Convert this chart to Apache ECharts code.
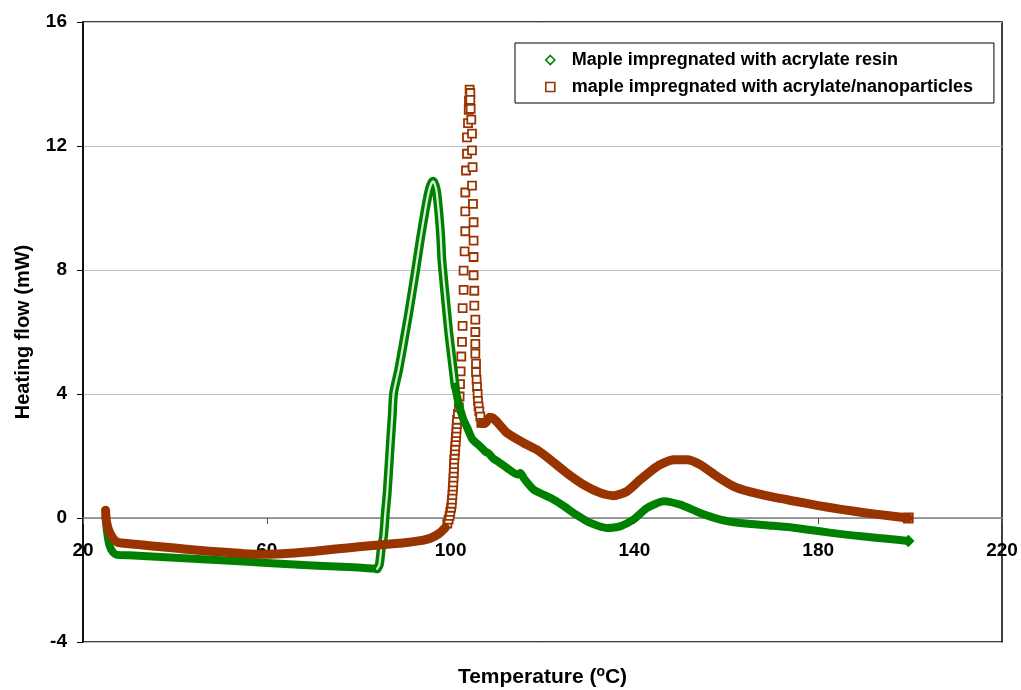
<!DOCTYPE html>
<html>
<head>
<meta charset="utf-8">
<title>Heating flow vs temperature</title>
<script src="https://cdn.jsdelivr.net/npm/echarts@6/dist/echarts.min.js"></script>
<style>
  html, body { margin: 0; padding: 0; background: #fff; }
  #chart { width: 1021px; height: 690px; }
</style>
</head>
<body>
<div id="chart"></div>
<script>
const FONT = '"Liberation Sans", Arial, sans-serif'
const GREEN = '#008000'
const BROWN = '#993300'

const seriesNames = ['Maple impregnated with acrylate resin', 'maple impregnated with acrylate/nanoparticles']
const xTicks = [20, 60, 100, 140, 180, 220]
const yTicks = [-4, 0, 4, 8, 12, 16]

// resin: dense run before the exotherm
const resinStartT = [24.9, 25.2, 25.7, 26.5, 27.5, 30, 40, 50, 60, 70, 80, 84.0]
const resinStartV = [0.05, -0.4, -0.85, -1.1, -1.19, -1.2, -1.28, -1.36, -1.45, -1.53, -1.6, -1.64]
// resin: the peak, where the markers spread apart
const resinPeakT = [84.0, 84.5, 84.9, 85.4, 85.8, 86.2, 86.9, 87.3, 87.6, 88.7, 89.7, 90.9, 92.3, 93.4, 94.5, 95.2, 95.7, 96.2, 96.6, 97.0, 97.8, 98.1, 98.9, 99.6, 100.3, 101.0]
const resinPeakV = [-1.64, -1.5, -1.0, -0.59, 0.16, 0.81, 2.42, 3.3, 4.03, 4.78, 5.6, 6.62, 7.91, 8.98, 9.95, 10.49, 10.75, 10.86, 10.75, 10.49, 9.2, 8.33, 7.04, 5.98, 5.11, 4.24]
// resin: after the peak
const resinEndT = [101.0, 101.7, 102.8, 103.6, 104.7, 106.5, 107.5, 108.3, 109.2, 110.5, 112.3, 114.5, 115.2, 116.0, 118.1, 121.7, 124.5, 126.8, 130.4, 134.0, 136.9, 139.8, 142.7, 146.4, 150.0, 154.3, 158.7, 163.0, 170, 175, 180, 185, 190, 195, 199.6]
const resinEndV = [4.24, 3.72, 3.17, 2.92, 2.55, 2.3, 2.15, 2.08, 1.93, 1.8, 1.61, 1.4, 1.45, 1.27, 0.91, 0.65, 0.4, 0.16, -0.16, -0.32, -0.27, -0.05, 0.32, 0.54, 0.43, 0.16, -0.05, -0.16, -0.25, -0.32, -0.42, -0.52, -0.6, -0.67, -0.74]

// nanoparticles: dense run before the exotherm
const nanoStartT = [24.9, 25.1, 25.6, 26.5, 27.5, 30, 35, 40, 45, 50, 55, 60, 65, 70, 75, 80, 85, 90, 93, 95.6, 97.5, 98.85]
const nanoStartV = [0.25, -0.1, -0.4, -0.65, -0.78, -0.83, -0.9, -0.97, -1.04, -1.1, -1.15, -1.17, -1.14, -1.08, -1.0, -0.93, -0.86, -0.8, -0.74, -0.65, -0.5, -0.31]
// nanoparticles: single squares of the sharp peak
const nanoPeakT = [99.28, 99.56, 99.78, 99.93, 100.1, 100.24, 100.3, 100.39, 100.46, 100.52, 100.59, 100.63, 100.67, 100.72, 100.76, 100.8, 100.89, 100.96, 101.02, 101.09, 101.17, 101.24, 101.3, 101.35, 101.39, 101.6, 101.8, 101.96, 102.05, 102.18, 102.33, 102.48, 102.61, 102.61, 102.83, 102.83, 103.05, 103.2, 103.2, 103.2, 103.35, 103.57, 103.57, 103.79, 103.95, 104.0, 104.14,
  104.29, 104.29, 104.36, 104.5, 104.66, 104.66, 104.79, 104.66, 104.87, 105.0, 105.0, 105.0, 105.0, 105.16, 105.16, 105.38, 105.38, 105.38, 105.38, 105.53, 105.53, 105.66, 105.75, 105.88, 105.96, 106.09, 106.25, 106.47, 106.68]
const nanoPeakV = [-0.18, -0.05, 0.07, 0.2, 0.33, 0.46, 0.59, 0.74, 0.88, 1.01, 1.15, 1.3, 1.45, 1.59, 1.74, 1.88, 2.03, 2.17, 2.31, 2.46, 2.61, 2.74, 2.88, 3.03, 3.17, 3.36, 3.57, 3.92, 4.32, 4.73, 5.21, 5.68, 6.2, 6.77, 7.36, 7.98, 8.6, 9.25, 9.89, 10.5, 11.21, 11.75, 12.28, 12.74, 13.17, 13.47, 13.82,
  13.71, 13.49, 13.2, 12.85, 12.4, 11.86, 11.32, 10.72, 10.13, 9.54, 8.95, 8.42, 7.83, 7.33, 6.85, 6.4, 6.0, 5.62, 5.3, 4.98, 4.71, 4.46, 4.23, 4.0, 3.78, 3.6, 3.44, 3.27, 3.07]
// nanoparticles: after the peak
const nanoEndT = [106.7, 107.5, 108.5, 109.3, 110.1, 112.3, 115.9, 118.8, 121.7, 125.3, 129.0, 132.6, 135.5, 138.4, 141.3, 144.9, 148.5, 151.5, 154.3, 158.0, 161.6, 165, 170, 175, 180, 185, 190, 195, 199.6]
const nanoEndV = [3.05, 3.05, 3.25, 3.22, 3.1, 2.74, 2.42, 2.2, 1.88, 1.45, 1.07, 0.81, 0.72, 0.86, 1.24, 1.66, 1.88, 1.88, 1.72, 1.34, 1.02, 0.85, 0.68, 0.54, 0.4, 0.28, 0.17, 0.08, 0.0]

const zip = (t, v) => t.map((x, i) => [x, v[i]])
const last = (t, v) => [[t[t.length - 1], v[v.length - 1]]]

// plot box in pixels; the x axis sits on y = 0, so shift it up from the bottom edge
const GRID = { left: 83, right: 19, top: 22, bottom: 48 }
const plotHeight = 690 - GRID.top - GRID.bottom
const zeroOffset = -plotHeight * (0 - yTicks[0]) / (yTicks[yTicks.length - 1] - yTicks[0])

function band(name, t, v, color, width) {
  return {
    name, type: 'line', data: zip(t, v), symbol: 'none', smooth: 0.2,
    lineStyle: { color, width, cap: 'round', join: 'round' }, itemStyle: { color },
    emphasis: { disabled: true }
  }
}

function marks(name, data, symbol, size, color) {
  return {
    name, type: 'scatter', data, symbol, symbolSize: size,
    itemStyle: { color: '#fff', borderColor: color, borderWidth: 1.8, opacity: 1 },
    emphasis: { disabled: true }
  }
}

const chart = echarts.init(document.getElementById('chart'))
chart.setOption({
  animation: false,
  textStyle: { fontFamily: FONT },
  grid: Object.assign({
    outerBoundsMode: 'none',
    show: true, borderColor: '#000', borderWidth: 1.5, backgroundColor: '#fff'
  }, GRID),
  legend: {
    orient: 'vertical', left: 515, top: 43,
    padding: [8, 21, 7, 30], itemGap: 9, itemWidth: 9, itemHeight: 9,
    borderColor: '#000', borderWidth: 1, backgroundColor: '#fff',
    textStyle: { fontFamily: FONT, fontSize: 18, fontWeight: 'bold', color: '#000', padding: [0, 0, 0, 12] },
    data: [
      { name: seriesNames[0], icon: 'diamond', itemStyle: { color: '#fff', borderColor: GREEN, borderWidth: 1.6 } },
      { name: seriesNames[1], icon: 'rect', itemStyle: { color: '#fff', borderColor: BROWN, borderWidth: 1.6 } }
    ]
  },
  xAxis: {
    type: 'value', position: 'bottom', offset: zeroOffset,
    min: xTicks[0], max: xTicks[xTicks.length - 1], interval: xTicks[1] - xTicks[0],
    name: '{t|Temperature (}{s|o}{t|C)}',
    nameLocation: 'middle', nameGap: 147,
    nameTextStyle: {
      rich: {
        t: { fontFamily: FONT, fontSize: 21, fontWeight: 'bold', color: '#000', lineHeight: 25 },
        s: { fontFamily: FONT, fontSize: 14, fontWeight: 'bold', color: '#000', verticalAlign: 'top', lineHeight: 14 }
      }
    },
    axisLine: { onZero: false, lineStyle: { color: '#808080', width: 1.5 } },
    axisTick: { show: true, length: 6, lineStyle: { color: '#555' } },
    axisLabel: { margin: 23, fontSize: 19, fontWeight: 'bold', color: '#000', showMinLabel: true, showMaxLabel: true },
    splitLine: { show: false }
  },
  yAxis: {
    type: 'value',
    min: yTicks[0], max: yTicks[yTicks.length - 1], interval: yTicks[1] - yTicks[0],
    name: 'Heating flow (mW)',
    nameLocation: 'middle', nameGap: 50,
    nameTextStyle: { fontFamily: FONT, fontSize: 20, fontWeight: 'bold', color: '#000' },
    axisLine: { show: true, lineStyle: { color: '#000', width: 1.5 } },
    axisTick: { show: true, length: 6, lineStyle: { color: '#000' } },
    axisLabel: { margin: 16, fontSize: 19, fontWeight: 'bold', color: '#000' },
    splitLine: { show: true, lineStyle: { color: '#c0c0c0', width: 1 } }
  },
  series: [
    band(seriesNames[0], resinStartT, resinStartV, GREEN, 8),
    band(seriesNames[0], resinPeakT, resinPeakV, GREEN, 9),
    // light core so the peak reads as a chain of hollow diamonds
    Object.assign(band('resin peak core', resinPeakT, resinPeakV, '#fff', 2.2), { silent: true, lineStyle: { color: '#fff', width: 2.2, opacity: 0.85, cap: 'round', join: 'round' } }),
    band(seriesNames[0], resinEndT, resinEndV, GREEN, 8),
    marks(seriesNames[0], last(resinEndT, resinEndV), 'diamond', 10, GREEN),
    band(seriesNames[1], nanoStartT, nanoStartV, BROWN, 9),
    marks(seriesNames[1], zip(nanoPeakT, nanoPeakV), 'rect', 8, BROWN),
    band(seriesNames[1], nanoEndT, nanoEndV, BROWN, 9),
    marks(seriesNames[1], last(nanoEndT, nanoEndV), 'rect', 9, BROWN)
  ]
})
</script>
</body>
</html>
